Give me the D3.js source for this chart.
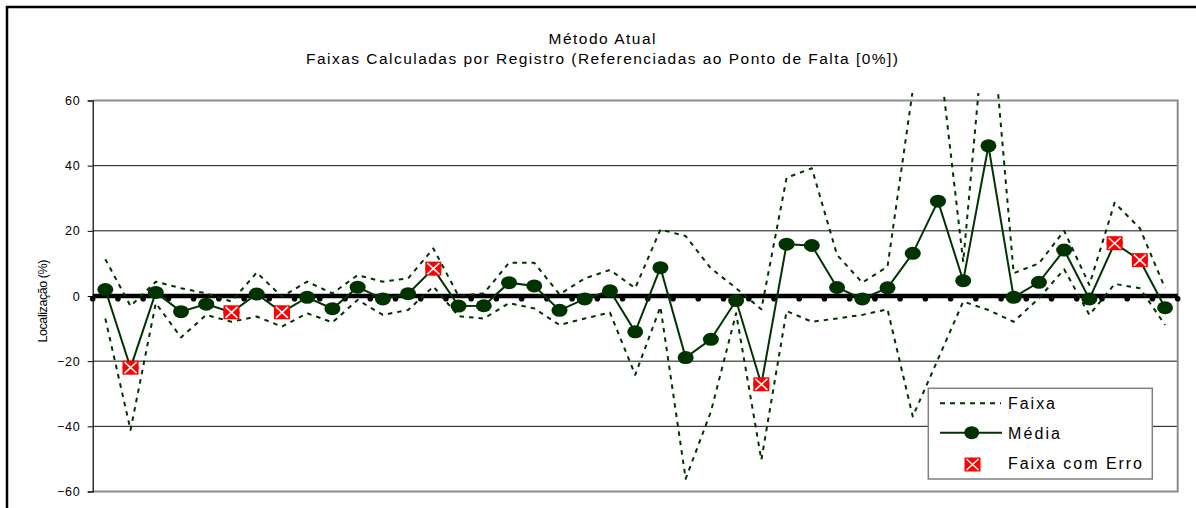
<!DOCTYPE html>
<html>
<head>
<meta charset="utf-8">
<script src="https://cdn.jsdelivr.net/npm/d3@7/dist/d3.min.js"></script>
<style>
  html, body { margin: 0; padding: 0; background: #fff; }
  svg { display: block; font-family: "Liberation Sans", Arial, sans-serif; }
</style>
</head>
<body>
<svg id="chart" width="1196" height="508"></svg>
<script>
// ---- Data ----
const registros = d3.range(1, 44);
const media = [2.0, -22.0, 1.1, -4.8, -2.5, -5.0, 0.6, -5.0, -0.4, -3.9, 2.7, -0.9, 0.7, 8.4, -3.1, -3.0, 4.1, 3.1, -4.4, -0.9, 1.6, -11.0, 8.7, -18.9, -13.3, -1.4, -27.1, 15.9, 15.5, 2.6, -0.9, 2.5, 13.1, 29.1, 4.7, 46.1, -0.4, 4.2, 14.1, -0.9, 16.2, 11.0, -3.6];
const faixaSup = [11.3, -3.1, 4.4, 2.4, 0.8, -1.7, 7.2, -0.2, 4.4, 0.8, 6.4, 4.4, 5.4, 14.6, 0.0, 0.8, 10.2, 10.2, 0.5, 5.4, 8.0, 2.4, 20.4, 18.4, 8.5, 2.4, -4.1, 36.3, 39.2, 12.6, 4.1, 9.0, 63.2, 77.6, 10.5, 96.5, 7.0, 10.0, 20.0, 3.4, 28.6, 20.8, 2.4];
const faixaInf = [-6.9, -41.1, -2.2, -12.7, -5.8, -7.9, -6.3, -9.4, -5.3, -8.1, -1.2, -5.8, -4.3, 2.9, -6.2, -6.9, -2.2, -3.8, -8.9, -6.9, -5.1, -24.2, -3.3, -56.1, -35.5, -5.3, -50.3, -4.6, -7.9, -6.9, -5.8, -4.1, -37.0, -19.4, -1.7, -4.3, -7.9, -0.7, 8.2, -5.8, 3.7, 2.4, -8.9];
const registrosComErro = [2, 6, 8, 14, 27, 41, 42];
const yTicks = [-60, -40, -20, 0, 20, 40, 60];
const titulo1 = "Método Atual";
const titulo2 = "Faixas Calculadas por Registro (Referenciadas ao Ponto de Falta [0%])";
const eixoY = "Localização (%)";
const legendas = ["Faixa", "Média", "Faixa com Erro"];

// ---- Layout ----
const svg = d3.select("#chart");
const W = 1196, H = 508;
const plot = { left: 92.7, right: 1177.7, top: 100.5, bottom: 491.5 };
const green = "#003300";

const x = d3.scaleBand().domain(registros).range([plot.left, plot.right]).paddingInner(0).paddingOuter(0);
const xc = d => x(d) + x.bandwidth() / 2;
const y = d3.scaleLinear().domain([-60, 60]).range([plot.bottom, plot.top]);

// chart border (top + left)
svg.append("path").attr("d", `M7,${H + 5} L7,7 L${W + 5},7`)
  .attr("fill", "none").attr("stroke", "#000").attr("stroke-width", 2.5);

// titles
svg.append("text").attr("x", 602).attr("y", 44).attr("text-anchor", "middle")
  .attr("font-size", 15.5).attr("textLength", 107).attr("lengthAdjust", "spacing").text(titulo1);
svg.append("text").attr("x", 602).attr("y", 64).attr("text-anchor", "middle")
  .attr("font-size", 15.5).attr("textLength", 592).attr("lengthAdjust", "spacing").text(titulo2);

// gridlines
svg.append("g").selectAll("line").data(yTicks.filter(t => t !== 0 && Math.abs(t) !== 60)).join("line")
  .attr("x1", plot.left).attr("x2", plot.right)
  .attr("y1", d => y(d)).attr("y2", d => y(d))
  .attr("stroke", "#111").attr("stroke-width", 1);

// plot border (gray) top, right, bottom
svg.append("path")
  .attr("d", `M${plot.left},${plot.top} L${plot.right},${plot.top} L${plot.right},${plot.bottom} L${plot.left},${plot.bottom}`)
  .attr("fill", "none").attr("stroke", "#8c8c8c").attr("stroke-width", 2);

// y axis
const yAxis = d3.axisLeft(y).tickValues(yTicks).tickSize(5).tickPadding(8);
const gy = svg.append("g").attr("transform", `translate(${plot.left},0)`).call(yAxis);
gy.select(".domain").attr("stroke", "#000").attr("stroke-width", 1.2);
gy.selectAll(".tick line").attr("stroke", "#000");
gy.selectAll(".tick text").attr("font-size", 12.5).attr("fill", "#000")
  .attr("font-family", "'Liberation Sans', Arial, sans-serif").attr("letter-spacing", 0.8)
  .attr("dx", 0.8);

// y axis title
svg.append("text").attr("transform", `translate(47,301) rotate(-90)`)
  .attr("text-anchor", "middle").attr("font-size", 12.5)
  .attr("textLength", 83).attr("lengthAdjust", "spacing").text(eixoY);

// zero axis (thick) with tick dots at category boundaries
svg.append("line").attr("x1", plot.left).attr("x2", plot.right)
  .attr("y1", y(0)).attr("y2", y(0)).attr("stroke", "#000").attr("stroke-width", 4.5);
const bounds = registros.map(d => x(d)).concat([x(registros[registros.length - 1]) + x.bandwidth()]);
svg.append("g").selectAll("circle").data(bounds).join("circle")
  .attr("cx", d => d).attr("cy", y(0) + 2.8).attr("r", 2.8).attr("fill", "#000");

// clip for band lines (slightly above the plot top, as in the reference)
svg.append("clipPath").attr("id", "clipBand").append("rect")
  .attr("x", 0).attr("y", 93).attr("width", W).attr("height", H - 93);

const bandLine = d3.line().x((d, i) => xc(registros[i])).y(d => y(d));
const gBand = svg.append("g").attr("clip-path", "url(#clipBand)");
[faixaSup, faixaInf].forEach(arr => {
  gBand.append("path").datum(arr).attr("d", bandLine)
    .attr("fill", "none").attr("stroke", green).attr("stroke-width", 2)
    .attr("stroke-linejoin", "round")
    .attr("stroke-dasharray", "4.5,5");
});

// média line
const mLine = d3.line().x((d, i) => xc(registros[i])).y(d => y(d));
svg.append("path").datum(media).attr("d", mLine)
  .attr("fill", "none").attr("stroke", green).attr("stroke-width", 2);
svg.append("g").selectAll("ellipse").data(media).join("ellipse")
  .attr("cx", (d, i) => xc(registros[i])).attr("cy", d => y(d))
  .attr("rx", 8).attr("ry", 6.5).attr("fill", green);

// error markers
function errMarker(g, cx, cy) {
  const w = 16, h = 14;
  g.append("rect").attr("x", cx - w / 2).attr("y", cy - h / 2).attr("width", w).attr("height", h).attr("fill", "#ff0000");
  g.append("path").attr("d", `M${cx - w / 2 + 2},${cy - h / 2 + 1.5} L${cx + w / 2 - 2},${cy + h / 2 - 1.5} M${cx + w / 2 - 2},${cy - h / 2 + 1.5} L${cx - w / 2 + 2},${cy + h / 2 - 1.5}`)
    .attr("stroke", "#fff").attr("stroke-width", 1.6);
}
const gErr = svg.append("g");
registrosComErro.forEach(r => {
  const i = registros.indexOf(r);
  errMarker(gErr, xc(r), y(media[i]));
});

// legend
const lg = svg.append("g");
lg.append("rect").attr("x", 928.3).attr("y", 388.3).attr("width", 224).attr("height", 90.7)
  .attr("fill", "#fff").attr("stroke", "#808080").attr("stroke-width", 1.5);
lg.append("line").attr("x1", 940).attr("x2", 1001).attr("y1", 403.3).attr("y2", 403.3)
  .attr("stroke", green).attr("stroke-width", 2).attr("stroke-dasharray", "5,5");
lg.append("line").attr("x1", 940).attr("x2", 1002).attr("y1", 432.7).attr("y2", 432.7)
  .attr("stroke", green).attr("stroke-width", 2);
lg.append("ellipse").attr("cx", 971.7).attr("cy", 432.7).attr("rx", 7.5).attr("ry", 6.5).attr("fill", green);
errMarker(lg, 972.5, 464.5);
const lgY = [409.3, 439, 469.3];
const lgW = [47, 52, 134];
legendas.forEach((t, i) => {
  lg.append("text").attr("x", 1008).attr("y", lgY[i]).attr("font-size", 16)
    .attr("textLength", lgW[i]).attr("lengthAdjust", "spacing").text(t);
});
</script>
</body>
</html>
